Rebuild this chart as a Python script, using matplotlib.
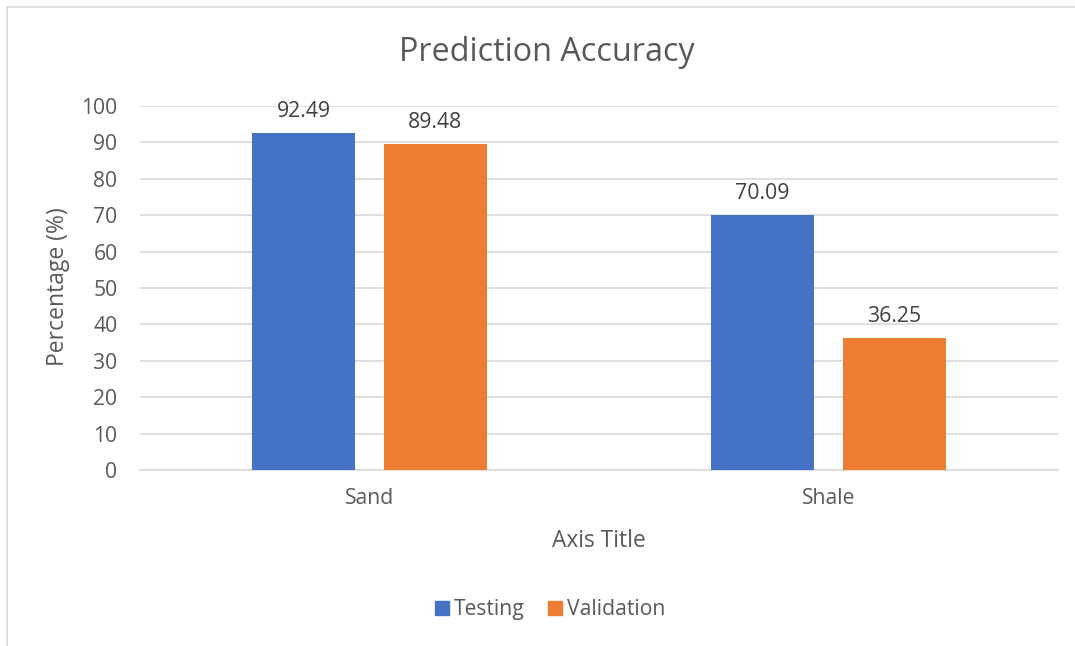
import numpy as np
import matplotlib.pyplot as plt
from matplotlib.lines import Line2D

# Chart data
categories = ['Sand', 'Shale']
testing = [92.49, 70.09]
validation = [89.48, 36.25]
series_names = ['Testing', 'Validation']
yticks = [0, 10, 20, 30, 40, 50, 60, 70, 80, 90, 100]

blue = '#4472C4'
orange = '#ED7D31'
text_col = '#595959'
grid_col = '#D9D9D9'

plt.rcParams['font.family'] = ['Open Sans', 'DejaVu Sans']

fig = plt.figure(figsize=(10.75, 6.46), dpi=100)
ax = fig.add_axes([0.130, 0.2724, 0.854, 0.5636])

x = np.arange(len(categories))
w = 0.224
b1 = ax.bar(x - 0.143, testing, width=w, color=blue, zorder=3, label=series_names[0])
b2 = ax.bar(x + 0.144, validation, width=w, color=orange, zorder=3, label=series_names[1])

# data labels above each bar
for bars, vals in [(b1, testing), (b2, validation)]:
    for rect, v in zip(bars, vals):
        ax.annotate(f'{v:.2f}', (rect.get_x() + rect.get_width() / 2, v),
                    xytext=(0, 8), textcoords='offset points',
                    ha='center', va='bottom', fontsize=15.3, color='#404040')

ax.set_xlim(-0.5, 1.5)
ax.set_ylim(0, 100)
ax.set_yticks(yticks)
ax.set_xticks(x)
ax.set_xticklabels(categories)
ax.yaxis.grid(True, color=grid_col, linewidth=1.2, zorder=0)
ax.tick_params(axis='both', length=0, labelsize=15.2, labelcolor=text_col)
ax.tick_params(axis='x', pad=13)
ax.tick_params(axis='y', pad=16)
for s in ['top', 'right', 'left']:
    ax.spines[s].set_visible(False)
ax.spines['bottom'].set_color(grid_col)
ax.spines['bottom'].set_linewidth(1.2)

fig.text(0.054, 0.556, 'Percentage (%)', rotation=90, ha='center', va='center',
         fontsize=16.5, color=text_col)
fig.text(0.5575, 0.162, 'Axis Title', ha='center', va='center', fontsize=16.4, color=text_col)
fig.text(0.509, 0.919, 'Prediction Accuracy', ha='center', va='center', fontsize=23.3, color=text_col)

handles = [plt.Rectangle((0, 0), 1, 1, color=blue), plt.Rectangle((0, 0), 1, 1, color=orange)]
fig.legend(handles, series_names, loc='center', bbox_to_anchor=(0.512, 0.056), ncol=2,
           frameon=False, fontsize=15.2, handlelength=0.65, handleheight=0.65,
           handletextpad=0.25, columnspacing=1.1, labelcolor=text_col)

# chart frame (left and top edges visible)
fig.add_artist(Line2D([0.0065, 0.0065], [0.0, 0.989], color=grid_col, lw=1.2))
fig.add_artist(Line2D([0.0065, 1.0], [0.989, 0.989], color=grid_col, lw=1.2))

fig.savefig('out.png', dpi=100)
